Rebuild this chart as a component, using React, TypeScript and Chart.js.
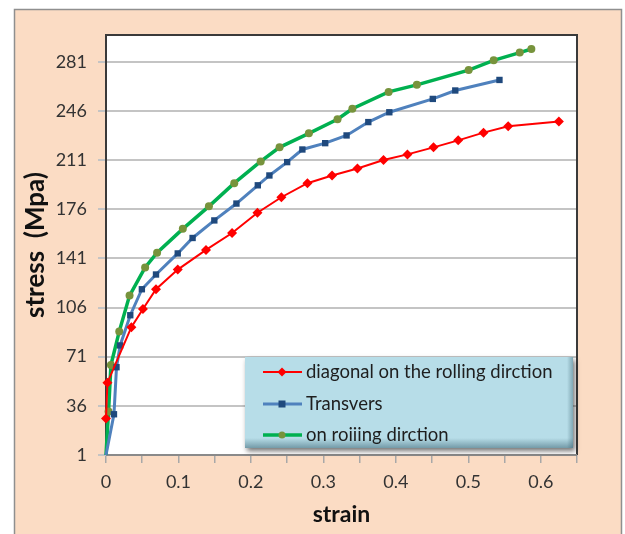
import React, { useEffect, useRef } from "react";
import { Chart, registerables } from "chart.js";

Chart.register(...registerables);

// ---- data ----
const seriesNames = [
  "diagonal on the rolling dirction",
  "Transvers",
  "on roiiing dirction",
];

const diagStrain = [0, 0.002, 0.035, 0.051, 0.069, 0.099, 0.138, 0.174, 0.209, 0.242, 0.278, 0.312, 0.347, 0.383, 0.416, 0.452, 0.486, 0.521, 0.555, 0.625];
const diagStress = [27, 52.5, 92, 105, 119, 133, 147, 159, 173.5, 184.5, 194.5, 200, 205, 211, 215, 220, 225, 230.5, 235, 238.5];

const transStrain = [0, 0.011, 0.0145, 0.0195, 0.0335, 0.0495, 0.069, 0.099, 0.1195, 0.1495, 0.18, 0.2095, 0.2255, 0.25, 0.271, 0.3025, 0.332, 0.362, 0.391, 0.451, 0.482, 0.543];
const transStress = [1, 30, 63.5, 79, 100.5, 119, 129.5, 144.5, 155.5, 168, 180, 193, 200, 209.5, 218.5, 223, 228.5, 238, 245, 254.5, 260.5, 268];

const rollStrain = [0, 0.0035, 0.0068, 0.0183, 0.0325, 0.054, 0.0705, 0.106, 0.142, 0.177, 0.2135, 0.2395, 0.28, 0.3195, 0.34, 0.39, 0.429, 0.5005, 0.535, 0.571, 0.587];
const rollStress = [1, 32, 65, 89, 114.5, 134.5, 145, 162, 178, 194.5, 210, 220, 230, 240, 247.5, 259.5, 264.5, 275, 282, 287.5, 290];

const xTickValues = [0, 0.05, 0.1, 0.15, 0.2, 0.25, 0.3, 0.35, 0.4, 0.45, 0.5, 0.55, 0.6, 0.65];
const xTickLabels = ["0", "", "0.1", "", "0.2", "", "0.3", "", "0.4", "", "0.5", "", "0.6", ""];
const yTickValues = [1, 36, 71, 106, 141, 176, 211, 246, 281];

const xTitle = "strain";
const yTitle = "stress  (Mpa)";

const FONT = "Lato, 'Open Sans', 'DejaVu Sans', sans-serif";

function toPoints(xs: number[], ys: number[]) {
  return xs.map((x, i) => ({ x, y: ys[i] }));
}

const styles = [
  { line: "#FF0000", marker: "#FF0000", shape: "rectRot", radius: 5, width: 2 },
  { line: "#4F81BD", marker: "#1F497D", shape: "rect", radius: 4.5, width: 3 },
  { line: "#00B050", marker: "#77933C", shape: "circle", radius: 4, width: 3.5 },
];

const backgroundPlugin = {
  id: "bg",
  beforeDraw(chart: any) {
    const { ctx, chartArea } = chart;
    ctx.save();
    ctx.fillStyle = "#ffffff";
    ctx.fillRect(0, 0, chart.width, chart.height);
    ctx.fillStyle = "#FBDCC4";
    ctx.fillRect(14, 9, 608, chart.height);
    ctx.strokeStyle = "#8f8f8f";
    ctx.lineWidth = 1.5;
    ctx.strokeRect(14.5, 9.5, 607, chart.height + 10);
    ctx.fillStyle = "#ffffff";
    ctx.fillRect(chartArea.left, chartArea.top, chartArea.right - chartArea.left, chartArea.bottom - chartArea.top);
    ctx.restore();
  },
  beforeDatasetsDraw(chart: any) {
    const { ctx, chartArea } = chart;
    const { left, top, right, bottom } = chartArea;
    ctx.save();
    ctx.strokeStyle = "#3a3a3a";
    ctx.lineWidth = 2;
    ctx.beginPath();
    ctx.moveTo(left, bottom);
    ctx.lineTo(left, top);
    ctx.lineTo(right, top);
    ctx.lineTo(right, bottom);
    ctx.stroke();
    ctx.strokeStyle = "#8a8a8a";
    ctx.beginPath();
    ctx.moveTo(left, bottom);
    ctx.lineTo(right, bottom);
    ctx.stroke();
    ctx.restore();
  },
};

const legendPlugin = {
  id: "boxLegend",
  afterDatasetsDraw(chart: any) {
    const { ctx } = chart;
    const bx = 245, by = 357, bw = 328, bh = 91;
    ctx.save();
    ctx.shadowColor = "rgba(0,0,0,0.55)";
    ctx.shadowBlur = 5;
    ctx.shadowOffsetX = 2;
    ctx.shadowOffsetY = 3;
    ctx.fillStyle = "#B7DDE8";
    ctx.fillRect(bx, by, bw, bh);
    ctx.restore();
    ctx.save();
    const g = ctx.createLinearGradient(0, by + bh - 10, 0, by + bh);
    g.addColorStop(0, "rgba(60,100,115,0)");
    g.addColorStop(1, "rgba(60,100,115,0.55)");
    ctx.fillStyle = g;
    ctx.fillRect(bx, by + bh - 10, bw, 10);
    const g2 = ctx.createLinearGradient(bx + bw - 6, 0, bx + bw, 0);
    g2.addColorStop(0, "rgba(60,100,115,0)");
    g2.addColorStop(1, "rgba(60,100,115,0.45)");
    ctx.fillStyle = g2;
    ctx.fillRect(bx + bw - 6, by, 6, bh);

    const rows = [372, 404, 435];
    seriesNames.forEach((name, i) => {
      const s = styles[i];
      const y = rows[i];
      ctx.strokeStyle = s.line;
      ctx.lineWidth = s.width;
      ctx.beginPath();
      ctx.moveTo(263, y);
      ctx.lineTo(302, y);
      ctx.stroke();
      ctx.fillStyle = s.marker;
      ctx.beginPath();
      if (s.shape === "rectRot") {
        ctx.moveTo(282, y - 4.5);
        ctx.lineTo(286.5, y);
        ctx.lineTo(282, y + 4.5);
        ctx.lineTo(277.5, y);
        ctx.closePath();
      } else if (s.shape === "rect") {
        ctx.rect(278.5, y - 3.5, 7, 7);
      } else {
        ctx.arc(282, y, 3.5, 0, Math.PI * 2);
      }
      ctx.fill();
      ctx.fillStyle = "#1e1e1e";
      ctx.font = `18.5px ${FONT}`;
      ctx.textBaseline = "middle";
      ctx.textAlign = "left";
      ctx.fillText(name, 306, y);
    });
    ctx.restore();
  },
};

export default function App() {
  const ref = useRef<HTMLCanvasElement | null>(null);

  useEffect(() => {
    if (!ref.current) return;
    const xs = [diagStrain, transStrain, rollStrain];
    const ys = [diagStress, transStress, rollStress];
    const chart = new Chart(ref.current, {
      type: "line",
      data: {
        datasets: seriesNames.map((name, i) => ({
          label: name,
          data: toPoints(xs[i], ys[i]),
          borderColor: styles[i].line,
          borderWidth: styles[i].width,
          backgroundColor: styles[i].marker,
          pointBackgroundColor: styles[i].marker,
          pointBorderColor: styles[i].marker,
          pointStyle: styles[i].shape as any,
          pointRadius: (c: any) => {
            const p = c.raw;
            return p && p.x === 0 && p.y === 1 ? 0 : styles[i].radius;
          },
          pointBorderWidth: 0,
          tension: 0,
          fill: false,
          clip: false as any,
        })),
      },
      options: {
        responsive: false,
        animation: false,
        events: [],
        layout: { padding: { left: 14, top: 35, right: 48, bottom: 0 } },
        plugins: { legend: { display: false }, tooltip: { enabled: false } },
        scales: {
          x: {
            type: "linear",
            min: 0,
            max: 0.65,
            afterBuildTicks: (s: any) => {
              s.ticks = xTickValues.map((v) => ({ value: v }));
            },
            afterFit: (s: any) => {
              s.height = 79;
              s.paddingLeft = 0;
              s.paddingRight = 0;
            },
            ticks: {
              autoSkip: false,
              maxRotation: 0,
              padding: 8,
              color: "#333333",
              font: { family: FONT, size: 18 },
              callback: (_v: any, i: number) => xTickLabels[i],
            },
            grid: { drawOnChartArea: false, drawTicks: true, tickLength: 8, color: "#a8a8a8", lineWidth: 1.5 },
            border: { display: false },
            title: {
              display: true,
              text: xTitle,
              color: "#111111",
              font: { family: FONT, size: 23, weight: "bold" },
              padding: { top: 0, bottom: 6 },
            },
          },
          y: {
            type: "linear",
            min: 1,
            max: 300,
            afterBuildTicks: (s: any) => {
              s.ticks = yTickValues.map((v) => ({ value: v }));
            },
            afterFit: (s: any) => {
              s.width = 92;
              s.paddingTop = 0;
              s.paddingBottom = 0;
            },
            ticks: {
              padding: 11,
              color: "#333333",
              font: { family: FONT, size: 18 },
              callback: (v: any) => String(v),
            },
            grid: { drawOnChartArea: true, drawTicks: true, tickLength: 8, color: "#c4c4c4", lineWidth: 2 },
            border: { display: false },
            title: {
              display: true,
              text: yTitle,
              color: "#111111",
              font: { family: FONT, size: 26, weight: "bold" },
              padding: { top: 6, bottom: 0 },
            },
          },
        },
      },
      plugins: [backgroundPlugin, legendPlugin],
    });
    return () => chart.destroy();
  }, []);

  return (
    <div style={{ position: "absolute", left: 0, top: 0, width: 625, height: 534, overflow: "hidden" }}>
      <canvas ref={ref} width={625} height={534} style={{ display: "block", width: 625, height: 534 }} />
    </div>
  );
}
